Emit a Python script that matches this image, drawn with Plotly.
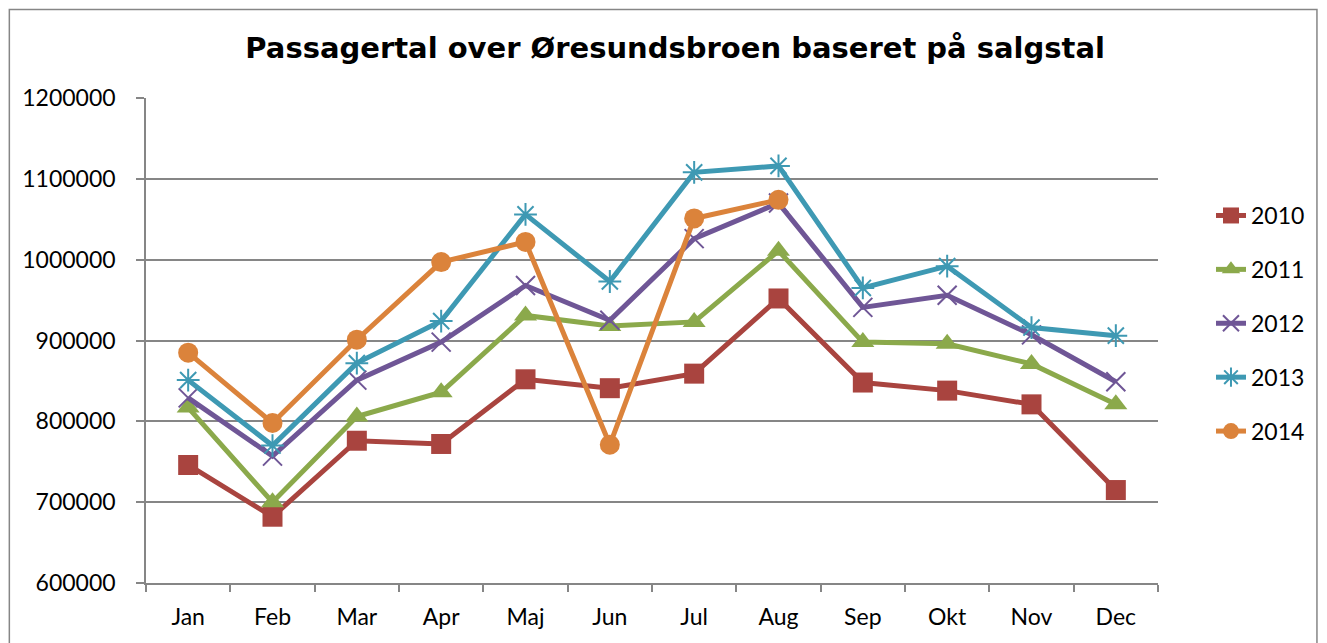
import plotly.graph_objects as go

months = ["Jan", "Feb", "Mar", "Apr", "Maj", "Jun", "Jul", "Aug", "Sep", "Okt", "Nov", "Dec"]
y2010 = [746000, 682000, 776000, 772000, 852000, 841000, 859000, 952000, 848000, 838000, 821000, 715000]
y2011 = [817000, 700000, 806000, 836000, 931000, 918000, 923000, 1011000, 898000, 896000, 871000, 821000]
y2012 = [829000, 757000, 851000, 898000, 968000, 925000, 1026000, 1070000, 941000, 956000, 907000, 849000]
y2013 = [851000, 770000, 872000, 924000, 1056000, 973000, 1108000, 1116000, 965000, 992000, 916000, 906000]
y2014 = [885000, 798000, 901000, 997000, 1022000, 771000, 1051000, 1074000]

series = [
    ("2010", y2010, "#A9443F", "square"),
    ("2011", y2011, "#8BA94B", "triangle-up"),
    ("2012", y2012, "#6F5696", "x-thin-open"),
    ("2013", y2013, "#3E99B3", "asterisk-open"),
    ("2014", y2014, "#DB833B", "circle"),
]

font = "Lato, 'Open Sans', sans-serif"
fig = go.Figure()
for name, vals, col, sym in series:
    open_sym = sym.endswith("open")
    fig.add_trace(go.Scatter(
        x=months[:len(vals)], y=vals, name=name, mode="lines+markers",
        legendgroup=name,
        line=dict(color=col, width=5),
        marker=dict(symbol=sym, size=20 if not open_sym else 19, color=col,
                    line=dict(color=col, width=2 if open_sym else 0)),
    ))

OFF = 8  # page offset of the figure in the screenshot
W, H = 1327, 643
L = 145.7 - OFF
T = 97.7 - OFF
B = H - (583.3 - OFF)
R = W - (1158 - OFF)
pw, ph = W - L - R, H - T - B

def px(xs):
    return (xs - OFF - L) / pw

def py(ys):
    return (H - B - (ys - OFF)) / ph

fig.add_shape(type="rect", xref="paper", yref="paper",
              x0=px(9), x1=px(1317), y0=py(670), y1=py(9),
              line=dict(color="#868686", width=1.5), fillcolor="rgba(0,0,0,0)", layer="below")

fig.update_layout(
    width=W, height=H,
    margin=dict(l=L, r=R, t=T, b=B),
    paper_bgcolor="white", plot_bgcolor="white",
    font=dict(family=font, size=23, color="black"),
    title=dict(text="<b>Passagertal over Øresundsbroen baseret på salgstal</b>",
               x=px(675), xanchor="center", xref="paper", y=1 - (48 - OFF) / H, yanchor="middle",
               font=dict(size=29, family="'DejaVu Sans', Verdana, sans-serif", color="black")),
    legend=dict(x=px(1211), xanchor="left", y=py(323.5), yanchor="middle",
                font=dict(size=23, family=font), tracegroupgap=21,
                bgcolor="rgba(0,0,0,0)"),
    showlegend=True,
)
fig.update_xaxes(
    type="category", categoryorder="array", categoryarray=months,
    range=[-0.5, 11.5], showgrid=False, showline=True, linecolor="#868686", linewidth=1.5,
    ticks="outside", tickson="boundaries", ticklen=7, tickcolor="#868686", tickwidth=1.5,
    tickfont=dict(size=23, family=font), ticklabelstandoff=13,
)
fig.update_yaxes(
    range=[600000, 1200000], dtick=100000, tickformat="d",
    showgrid=True, gridcolor="#868686", gridwidth=1.5,
    showline=True, linecolor="#868686", linewidth=1.5,
    ticks="outside", ticklen=8, tickcolor="#868686", tickwidth=1.5,
    tickfont=dict(size=23, family=font), ticklabelstandoff=16, zeroline=False,
)

fig.write_html("out.html")
